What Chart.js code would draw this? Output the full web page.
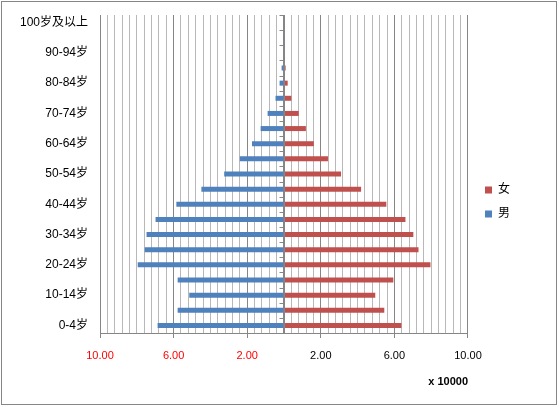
<!DOCTYPE html>
<html>
<head>
<meta charset="utf-8">
<script src="https://cdn.jsdelivr.net/npm/chart.js@4/dist/chart.umd.min.js"></script>
<style>
  html, body { margin: 0; padding: 0; background: #fff; }
  #wrap { width: 559px; height: 407px; }
</style>
</head>
<body>
<div id="wrap"><canvas id="pyramid" width="559" height="407"></canvas></div>
<script>
// age groups, bottom to top
const ageGroups = ['0-4岁', '5-9岁', '10-14岁', '15-19岁', '20-24岁', '25-29岁', '30-34岁',
  '35-39岁', '40-44岁', '45-49岁', '50-54岁', '55-59岁', '60-64岁', '65-69岁', '70-74岁',
  '75-79岁', '80-84岁', '85-89岁', '90-94岁', '95-99岁', '100岁及以上'];

// population in units of 10000
const female = [6.38, 5.45, 4.96, 5.94, 7.96, 7.31, 7.03, 6.60, 5.56, 4.19, 3.10,
  2.39, 1.62, 1.19, 0.80, 0.40, 0.20, 0.09, 0.03, 0.01, 0];
const male = [6.87, 5.78, 5.15, 5.78, 7.95, 7.57, 7.47, 6.98, 5.85, 4.49, 3.25,
  2.40, 1.74, 1.27, 0.89, 0.46, 0.24, 0.13, 0.03, 0.01, 0];

const xMin = -10;
const xMax = 10;
const minorStep = 0.4;
const majorEvery = 10; // every 10th minor tick is a major one (4.00)
const unitLabel = 'x 10000';

const fontFamily = '"Liberation Sans", "Noto Sans CJK SC", sans-serif';
const axisGrey = '#868686';
const minorGrey = '#B8B8B8';

// outer frame + the centre axis with its little ticks
const framePlugin = {
  id: 'frame',
  beforeDraw(chart) {
    const ctx = chart.ctx;
    ctx.save();
    ctx.fillStyle = '#fff';
    ctx.fillRect(0, 0, chart.width, chart.height);
    ctx.strokeStyle = axisGrey;
    ctx.lineWidth = 1;
    ctx.strokeRect(1.5, 1.5, chart.width - 4, chart.height - 4);
    ctx.restore();
  },
  afterDatasetsDraw(chart) {
    const ctx = chart.ctx;
    const xs = chart.scales.x;
    const ys = chart.scales.y;
    const x0 = Math.round(xs.getPixelForValue(0)) + 0.5;
    ctx.save();
    ctx.strokeStyle = axisGrey;
    ctx.lineWidth = 1;
    ctx.beginPath();
    ctx.moveTo(x0, chart.chartArea.top);
    ctx.lineTo(x0, chart.chartArea.bottom);
    for (let i = 0; i <= ageGroups.length; i++) {
      const y = Math.round(ys.getPixelForValue(i - 0.5)) + 0.5;
      ctx.moveTo(x0 - 5, y);
      ctx.lineTo(x0, y);
    }
    ctx.stroke();
    ctx.restore();
  }
};

new Chart(document.getElementById('pyramid'), {
  type: 'bar',
  data: {
    labels: ageGroups,
    datasets: [
      {
        label: '女',
        data: female,
        backgroundColor: '#C0504D',
        barPercentage: 0.33,
        categoryPercentage: 1
      },
      {
        label: '男',
        data: male.map(v => -v),
        backgroundColor: '#4F81BD',
        barPercentage: 0.33,
        categoryPercentage: 1
      }
    ]
  },
  options: {
    indexAxis: 'y',
    responsive: false,
    animation: false,
    layout: { padding: { top: 15, left: 0, right: 39, bottom: 18 } },
    scales: {
      x: {
        stacked: true,
        min: xMin,
        max: xMax,
        afterFit: s => { s.height = 56; },
        border: { display: true, color: axisGrey },
        grid: {
          color: c => (c.index % majorEvery === 0 || c.index === 25) ? axisGrey : minorGrey,
          tickColor: c => c.index % majorEvery === 0 ? axisGrey : 'rgba(0,0,0,0)',
          tickLength: 5
        },
        ticks: {
          stepSize: minorStep,
          autoSkip: false,
          maxRotation: 0,
          padding: 11,
          font: { family: fontFamily, size: 11 },
          color: c => c.tick && c.tick.value < 0 ? '#FF0000' : '#000000',
          callback: (v, i) => i % majorEvery === 0 ? Math.abs(v).toFixed(2) : ''
        },
        title: {
          display: true,
          text: unitLabel,
          align: 'end',
          color: '#000',
          font: { family: fontFamily, size: 11, weight: 'bold' },
          padding: { top: 0, bottom: 0 }
        }
      },
      y: {
        stacked: true,
        reverse: true,
        afterFit: s => { s.width = 100; },
        border: { display: false },
        // invisible tick marks keep the labels 12px off the plot
        grid: { display: true, drawOnChartArea: false, tickLength: 12, tickColor: 'rgba(0,0,0,0)' },
        ticks: {
          autoSkip: false,
          padding: 0,
          color: '#000',
          font: { family: fontFamily, size: 12 },
          callback: function (v, i) { return i % 2 === 0 ? this.getLabelForValue(v) : ''; }
        }
      },
      // empty spacer between the plot and the legend
      gap: {
        type: 'linear',
        axis: 'y',
        position: 'right',
        display: true,
        afterFit: s => { s.width = 5; },
        border: { display: false },
        grid: { display: false, drawOnChartArea: false },
        ticks: { display: false }
      }
    },
    plugins: {
      legend: {
        position: 'right',
        labels: {
          boxWidth: 7,
          boxHeight: 7,
          padding: 12,
          color: '#000',
          font: { family: fontFamily, size: 12, lineHeight: 0.67 }
        }
      },
      tooltip: { enabled: false }
    }
  },
  plugins: [framePlugin]
});
</script>
</body>
</html>
